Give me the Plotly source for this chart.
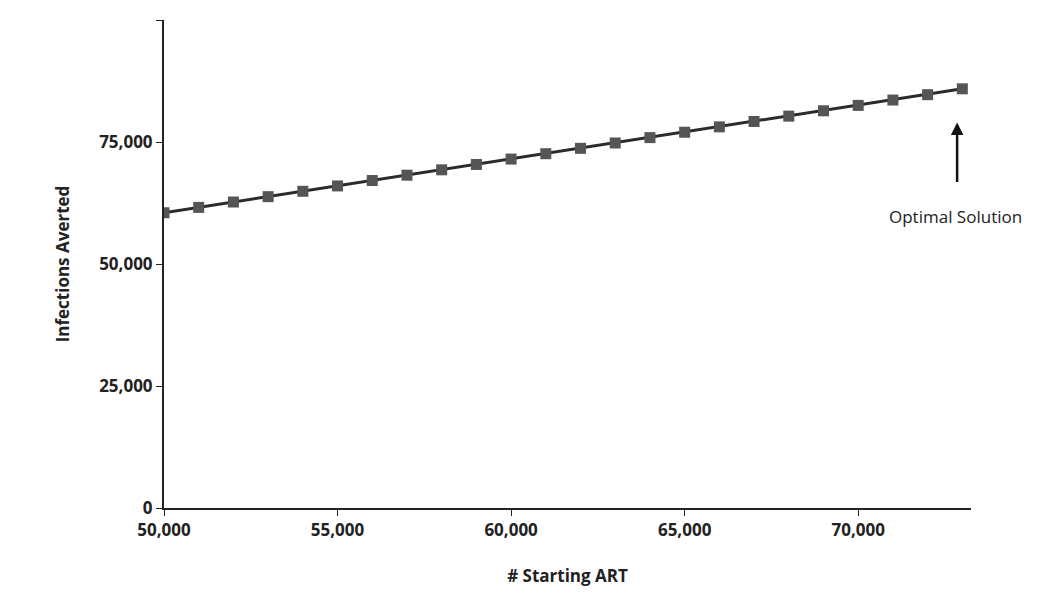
import plotly.graph_objects as go

starting_art = list(range(50000, 74000, 1000))
infections_averted = [60500, 61600, 62700, 63800, 64900, 66000, 67100, 68200,
                      69300, 70400, 71500, 72600, 73700, 74800, 75900, 77000,
                      78100, 79200, 80300, 81400, 82500, 83600, 84700, 85900]

fig = go.Figure()
fig.add_trace(go.Scatter(
    x=starting_art, y=infections_averted, mode="lines+markers",
    line=dict(color="#2b2b2b", width=3),
    marker=dict(symbol="square", size=11, color="#555555"),
    showlegend=False,
))

# arrow + label for the optimum
fig.add_annotation(x=72850, y=79000, ax=72850, ay=66500,
                   xref="x", yref="y", axref="x", ayref="y",
                   showarrow=True, arrowhead=2, arrowsize=1, arrowwidth=2.5, arrowcolor="#111", text="")
fig.add_annotation(x=72800, y=59800, text="Optimal Solution",
                   showarrow=False, font=dict(size=17, color="#222"))

tick_font = dict(family="Open Sans, Liberation Sans, sans-serif", size=17, color="#222", weight="bold")
fig.update_layout(
    width=1050, height=613,
    margin=dict(l=156, r=87, t=12, b=113),
    plot_bgcolor="white", paper_bgcolor="white",
    font=dict(family="Open Sans, Liberation Sans, sans-serif", size=17, color="#222"),
    xaxis=dict(range=[50000, 73250], tickvals=[50000, 55000, 60000, 65000, 70000],
               tickformat=",d", showgrid=False, showline=True, linecolor="#222", linewidth=2,
               ticks="outside", ticklen=6, tickcolor="#222", tickfont=tick_font,
               title=dict(text="<b># Starting ART</b>", font=dict(size=17), standoff=30)),
    yaxis=dict(range=[0, 100000], tickvals=[0, 25000, 50000, 75000, 100000],
               tickformat=",d", showgrid=False, showline=True, linecolor="#222", linewidth=2,
               ticks="outside", ticklen=6, tickcolor="#222", tickfont=tick_font,
               title=dict(text="<b>Infections Averted</b>", font=dict(size=17), standoff=25)),
)

fig.write_html("out.html")
